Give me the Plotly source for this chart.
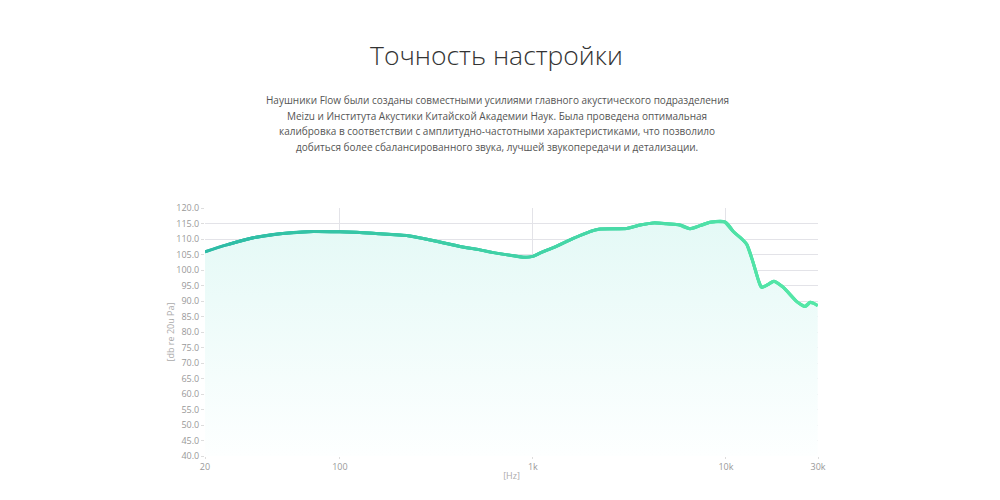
import plotly.graph_objects as go
import numpy as np

# ---- data ----
freq_hz = [20, 25.9, 35.6, 49, 72.8, 100, 127, 161, 222, 282, 419, 532, 624, 794, 900,
           1000, 1100, 1276, 1619, 1977, 2228, 3062, 3592, 4209, 4934, 5782, 6518, 7341,
           8270, 9891, 10918, 12100, 12820, 13870, 14720, 15300, 16500, 17750, 19840,
           23300, 25700, 27300, 28300, 29900]
spl_db = [105.9, 108.1, 110.4, 111.7, 112.4, 112.3, 112.1, 111.7, 111.1, 109.9, 107.6,
          106.5, 105.6, 104.6, 104.1, 104.4, 105.6, 107.2, 110.2, 112.4, 113.2, 113.4,
          114.5, 115.2, 114.9, 114.5, 113.3, 114.3, 115.4, 115.5, 112.4, 110.0, 108.3,
          102.2, 96.8, 94.4, 95.3, 96.4, 94.4, 89.8, 88.2, 89.6, 89.3, 88.5]

x_tick_vals = [20, 100, 1000, 10000, 30000]
x_tick_text = ["20", "100", "1k", "10k", "30k"]

title_text = "Точность настройки"
body_lines = [
    "Наушники Flow были созданы совместными усилиями главного акустического подразделения",
    "Meizu и Института Акустики Китайской Академии Наук. Была проведена оптимальная",
    "калибровка в соответствии с амплитудно-частотными характеристиками, что позволило",
    "добиться более сбалансированного звука, лучшей звукопередачи и детализации.",
]

# ---- layout constants (page body has an 8px offset) ----
OFF = 8
W, H = 1000, 500
L, R, T, B = 205 - OFF, W - (818 - OFF), 208 - OFF, H - (456 - OFF)
plot_h = H - T - B
plot_w = W - L - R
FONT = "Open Sans"

fig = go.Figure()

# fill under curve
fig.add_trace(go.Scatter(
    x=freq_hz, y=spl_db, mode="lines", line=dict(width=0, shape="spline"),
    fill="tozeroy",
    fillgradient=dict(type="vertical", start=40, stop=116,
                      colorscale=[[0, "rgba(253,255,255,1)"], [1, "rgba(228,249,246,1)"]]),
    hoverinfo="skip", showlegend=False))

# gradient line (overlapping spline windows)
c0 = np.array([44, 186, 166])
c1 = np.array([86, 232, 168])
lx = np.log10(freq_hz)
t_all = (lx - lx.min()) / (lx.max() - lx.min())
n = len(freq_hz)
for i in range(n - 1):
    t = (t_all[i] + t_all[i + 1]) / 2
    c = (c0 + (c1 - c0) * t).astype(int)
    a, b = max(i - 1, 0), min(i + 3, n)
    fig.add_trace(go.Scatter(
        x=freq_hz[a:b], y=spl_db[a:b], mode="lines",
        line=dict(color=f"rgb({c[0]},{c[1]},{c[2]})", width=3, shape="spline", smoothing=0.8),
        hoverinfo="skip", showlegend=False))

fig.update_layout(
    width=W, height=H,
    margin=dict(l=L, r=R, t=T, b=B),
    paper_bgcolor="white", plot_bgcolor="white",
    font=dict(family=FONT, color="#999"),
    xaxis=dict(type="log", range=[np.log10(20), np.log10(30000)],
               tickvals=x_tick_vals, ticktext=x_tick_text,
               ticks="outside", ticklen=2, tickcolor="#ddd",
               tickfont=dict(size=9, color="#999"),
               showgrid=True, gridcolor="#e3e3e8", zeroline=False, showline=False,
               title=dict(text="[Hz]", font=dict(size=9, color="#aaa"), standoff=0)),
    yaxis=dict(range=[40, 120], dtick=5, tickformat=".1f",
               ticks="outside", ticklen=3, tickcolor="#ddd",
               tickfont=dict(size=9, color="#999"),
               showgrid=True, gridcolor="#e3e3e8", zeroline=False, showline=False,
               title=dict(text="[db re 20u Pa]", font=dict(size=9, color="#aaa"), standoff=0)),
)

def py(px):
    return (H - B - (px - OFF)) / plot_h

def pxx(px):
    return (px - OFF - L) / plot_w

fig.add_annotation(text=title_text, x=pxx(496), y=py(55), xref="paper", yref="paper",
                   showarrow=False, xanchor="center", yanchor="middle",
                   font=dict(family=FONT, size=26.5, color="#333", weight=300))
for k, line in enumerate(body_lines):
    fig.add_annotation(text=line, x=pxx(497), y=py(100 + k * 15.6), xref="paper", yref="paper",
                       showarrow=False, xanchor="center", yanchor="middle",
                       font=dict(family=FONT, size=10, color="#555"))

fig.write_html("out.html")
